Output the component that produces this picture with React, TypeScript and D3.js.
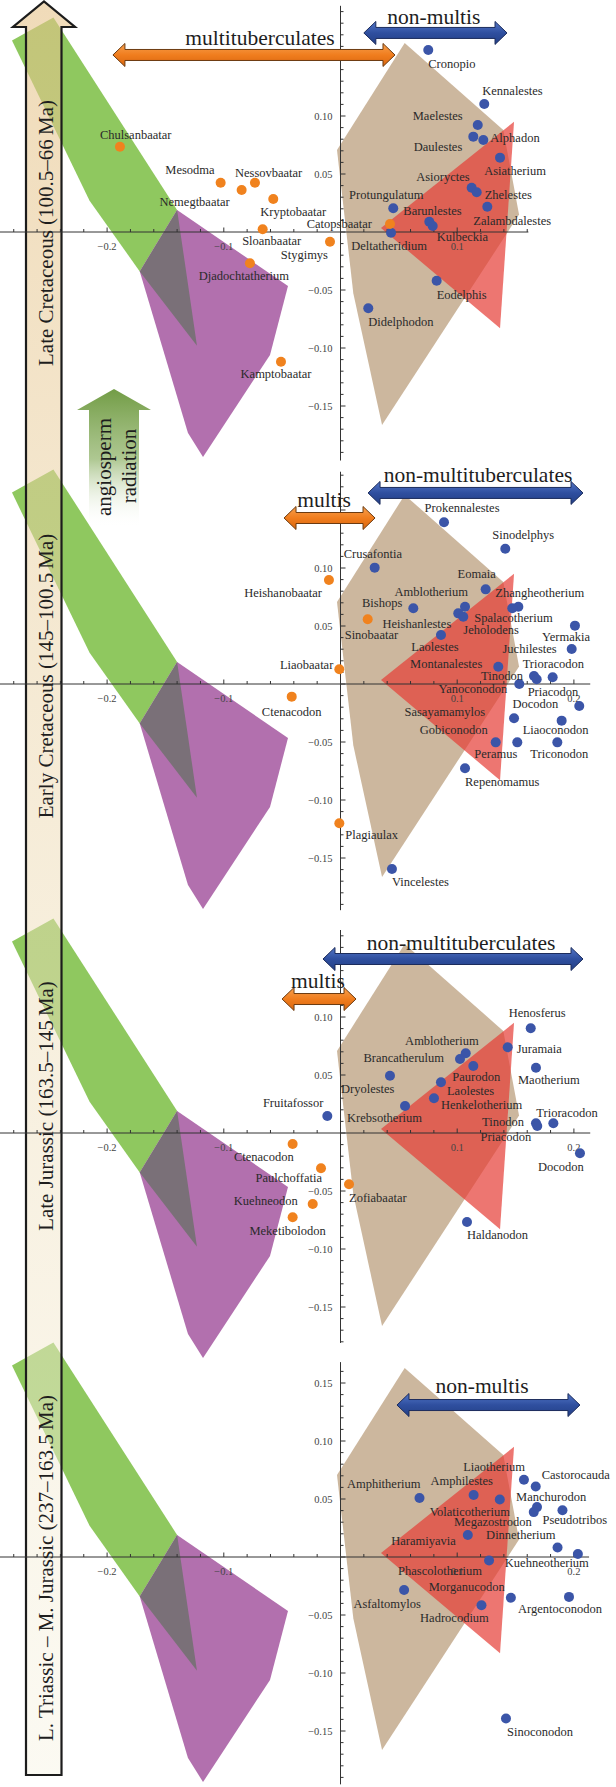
import React from 'react';
import * as d3 from 'd3';

type Taxon = [string, number, number];
type Vtx = [number, number];
type LabelAt = [number, number, 's' | 'm' | 'e'];

const SERIF = '"Liberation Serif", "Times New Roman", "DejaVu Serif", serif';

// morphospace outlines (PC1, PC2), the same in all four panels
const tanHull: Vtx[] = [[0.055, 0.163], [0.1395, 0.088], [0.153, 0.015], [0.0356, -0.1664], [0.011, -0.053], [-0.003, 0.0707]];
const redHull: Vtx[] = [[0.0347, 0.0034], [0.1487, 0.095], [0.1367, -0.083]];
const greenHull: Vtx[] = [[-0.2815, 0.165], [-0.246, 0.185], [-0.14, 0.019], [-0.172, -0.034], [-0.215, 0.027]];
const purpleHull: Vtx[] = [[-0.14, 0.019], [-0.045, -0.0466], [-0.0604, -0.106], [-0.1178, -0.194], [-0.1307, -0.1733], [-0.172, -0.034]];
const greyHull: Vtx[] = [[-0.14, 0.019], [-0.172, -0.034], [-0.123, -0.098]];

// Late Cretaceous
const lkMultis: Taxon[] = [
  ['Chulsanbaatar', -0.189, 0.0735], ['Mesodma', -0.1027, 0.0425], ['Nessovbaatar', -0.0733, 0.0425],
  ['Nemegtbaatar', -0.0847, 0.0362], ['Kryptobaatar', -0.0576, 0.0284], ['Catopsbaatar', 0.0424, 0.0069],
  ['Sloanbaatar', -0.0667, 0.0023], ['Stygimys', -0.009, -0.0084], ['Djadochtatherium', -0.0776, -0.027],
  ['Kamptobaatar', -0.051, -0.1118],
];
const lkOthers: Taxon[] = [
  ['Cronopio', 0.0752, 0.1569], ['Kennalestes', 0.1232, 0.1103], ['Maelestes', 0.1176, 0.0922],
  ['Daulestes', 0.1138, 0.0822], ['Alphadon', 0.1224, 0.0793], ['Asiatherium', 0.1367, 0.0641],
  ['Asioryctes', 0.1124, 0.0382], ['Zhelestes', 0.1167, 0.0342], ['Zalambdalestes', 0.1258, 0.0218],
  ['Protungulatum', 0.0452, 0.0204], ['Barunlestes', 0.0761, 0.0089], ['Kulbeckia', 0.079, 0.0052],
  ['Deltatheridium', 0.0433, -0.0006], ['Eodelphis', 0.0824, -0.042], ['Didelphodon', 0.0238, -0.0658],
];

// Early Cretaceous
const ekMultis: Taxon[] = [
  ['Heishanobaatar', -0.0099, 0.0897], ['Sinobaatar', 0.0233, 0.0558], ['Liaobaatar', -0.001, 0.0127],
  ['Ctenacodon', -0.0418, -0.0109], ['Plagiaulax', -0.001, -0.1201],
];
const ekOthers: Taxon[] = [
  ['Prokennalestes', 0.0887, 0.1394], ['Sinodelphys', 0.1412, 0.1166], ['Crusafontia', 0.0293, 0.1003],
  ['Eomaia', 0.1244, 0.0816], ['Zhangheotherium', 0.1524, 0.0666], ['Spalacotherium', 0.1472, 0.0653],
  ['Amblotherium', 0.1067, 0.0666], ['Heishanlestes', 0.1009, 0.0609], ['Jeholodens', 0.1052, 0.058],
  ['Bishops', 0.0624, 0.0653], ['Laolestes', 0.0861, 0.0422], ['Montanalestes', 0.1352, 0.0149],
  ['Juchilestes', 0.1981, 0.0302], ['Yermakia', 0.2009, 0.0503], ['Tinodon', 0.1658, 0.0069],
  ['Trioracodon', 0.1818, 0.0058], ['Priacodon', 0.1681, 0.0041], ['Yanoconodon', 0.1532, 0.0],
  ['Docodon', 0.2046, -0.019], ['Sasayamamylos', 0.1487, -0.0296], ['Liaoconodon', 0.1895, -0.0316],
  ['Gobiconodon', 0.133, -0.0503], ['Peramus', 0.1515, -0.0503], ['Triconodon', 0.1858, -0.0503],
  ['Repenomamus', 0.1067, -0.0727], ['Vincelestes', 0.0441, -0.1595],
];

// Late Jurassic
const ljMultis: Taxon[] = [
  ['Ctenacodon', -0.041, -0.0095], ['Paulchoffatia', -0.0167, -0.0304], ['Kuehneodon', -0.0238, -0.0612],
  ['Meketibolodon', -0.041, -0.0727], ['Zofiabaatar', 0.0073, -0.0442],
];
const ljOthers: Taxon[] = [
  ['Henosferus', 0.163, 0.0903], ['Juramaia', 0.1433, 0.0739], ['Amblotherium', 0.1073, 0.0687],
  ['Brancatherulum', 0.1024, 0.0638], ['Paurodon', 0.1138, 0.0578], ['Maotherium', 0.1675, 0.0563],
  ['Dryolestes', 0.0424, 0.0494], ['Laolestes', 0.0861, 0.0437], ['Henkelotherium', 0.0801, 0.0299],
  ['Krebsotherium', 0.0553, 0.0233], ['Fruitafossor', -0.0113, 0.0147], ['Tinodon', 0.1675, 0.0084],
  ['Trioracodon', 0.1824, 0.0084], ['Priacodon', 0.1686, 0.006], ['Docodon', 0.2052, -0.0175],
  ['Haldanodon', 0.1084, -0.0767],
];

// Late Triassic - Middle Jurassic
const tjMultis: Taxon[] = [];
const tjOthers: Taxon[] = [
  ['Amphitherium', 0.0677, 0.0508], ['Amphilestes', 0.1141, 0.0534], ['Volaticotherium', 0.1365, 0.0495],
  ['Liaotherium', 0.1572, 0.0666], ['Castorocauda', 0.1673, 0.0607], ['Manchurodon', 0.1684, 0.043],
  ['Megazostrodon', 0.1656, 0.0387], ['Pseudotribos', 0.1902, 0.0403], ['Haramiyavia', 0.1091, 0.019],
  ['Dinnetherium', 0.186, 0.0082], ['Kuehneotherium', 0.2034, 0.0026], ['Phascolotherium', 0.1273, -0.003],
  ['Asfaltomylos', 0.0545, -0.0285], ['Hadrocodium', 0.1208, -0.0416], ['Morganucodon', 0.146, -0.0351],
  ['Argentoconodon', 0.1958, -0.0344], ['Sinoconodon', 0.1418, -0.1393],
];

const periods = [
  'Late Cretaceous (100.5\u201366\u2009Ma)',
  'Early Cretaceous (145\u2013100.5\u2009Ma)',
  'Late Jurassic (163.5\u2013145\u2009Ma)',
  'L. Triassic \u2013 M. Jurassic (237\u2013163.5\u2009Ma)',
];

// label placement: offset from the dot in px, text anchor
const lkLabels: Record<string, LabelAt> = {
  Chulsanbaatar: [-20, -12, 's'], Mesodma: [-6, -13, 'e'], Nessovbaatar: [-20, -10, 's'],
  Nemegtbaatar: [-12, 12, 'e'], Kryptobaatar: [-13, 13, 's'], Catopsbaatar: [-18, 0, 'e'],
  Sloanbaatar: [9, 12, 'm'], Stygimys: [-2, 13, 'e'], Djadochtatherium: [-6, 13, 'm'],
  Kamptobaatar: [-5, 12, 'm'], Cronopio: [0, 14, 's'], Kennalestes: [-2, -13, 's'],
  Maelestes: [-15, -9, 'e'], Daulestes: [-11, 10, 'e'], Alphadon: [7, -2, 's'],
  Asiatherium: [15, 13, 'm'], Asioryctes: [-2, -11, 'e'], Zhelestes: [8, 3, 's'],
  Zalambdalestes: [-14, 14, 's'], Protungulatum: [-7, -13, 'm'], Barunlestes: [-26, -11, 's'],
  Kulbeckia: [4, 11, 's'], Deltatheridium: [-2, 13, 'm'], Eodelphis: [0, 14, 's'],
  Didelphodon: [0, 14, 's'],
};
const ekLabels: Record<string, LabelAt> = {
  Heishanobaatar: [-7, 13, 'e'], Sinobaatar: [-23, 16, 's'], Liaobaatar: [-6, -4, 'e'],
  Ctenacodon: [0, 15, 'm'], Plagiaulax: [6, 12, 's'], Prokennalestes: [18, -14, 'm'],
  Sinodelphys: [-13, -14, 's'], Crusafontia: [-31, -14, 's'], Eomaia: [-9, -15, 'm'],
  Zhangheotherium: [-23, -14, 's'], Spalacotherium: [-38, 10, 's'], Amblotherium: [3, -15, 'e'],
  Heishanlestes: [-7, 11, 'e'], Jeholodens: [0, 13, 's'], Bishops: [-11, -5, 'e'],
  Laolestes: [-6, 12, 'm'], Montanalestes: [-16, -3, 'e'], Juchilestes: [-15, 0, 'e'],
  Yermakia: [-9, 11, 'm'], Tinodon: [-11, 0, 'e'], Trioracodon: [-30, -13, 's'],
  Priacodon: [-9, 13, 's'], Yanoconodon: [-12, 5, 'e'], Docodon: [-21, -2, 'e'],
  Sasayamamylos: [-29, -6, 'e'], Liaoconodon: [-39, 9, 's'], Gobiconodon: [-8, -12, 'e'],
  Peramus: [0, 12, 'e'], Triconodon: [-27, 12, 's'], Repenomamus: [0, 14, 's'],
  Vincelestes: [0, 13, 's'],
};
const ljLabels: Record<string, LabelAt> = {
  Henosferus: [-22, -15, 's'], Juramaia: [9, 2, 's'], Amblotherium: [13, -12, 'e'],
  Brancatherulum: [-16, -1, 'e'], Paurodon: [-21, 11, 's'], Maotherium: [-18, 12, 's'],
  Dryolestes: [-49, 13, 's'], Laolestes: [6, 9, 's'], Henkelotherium: [7, 7, 's'],
  Krebsotherium: [-58, 12, 's'], Fruitafossor: [-4, -13, 'e'], Tinodon: [-12, -1, 'e'],
  Trioracodon: [-17, -10, 's'], Priacodon: [-6, 11, 'e'], Docodon: [-19, 14, 'm'],
  Haldanodon: [0, 13, 's'], Ctenacodon: [1, 13, 'e'], Paulchoffatia: [1, 10, 'e'],
  Kuehneodon: [-15, -3, 'e'], Meketibolodon: [-5, 14, 'm'], Zofiabaatar: [0, 14, 's'],
};
const tjLabels: Record<string, LabelAt> = {
  Amphitherium: [1, -14, 'e'], Amphilestes: [-12, -14, 'm'], Volaticotherium: [-30, 12, 'm'],
  Liaotherium: [1, -13, 'e'], Castorocauda: [6, -12, 's'], Manchurodon: [-21, -10, 's'],
  Megazostrodon: [-2, 10, 'e'], Pseudotribos: [-20, 10, 's'], Haramiyavia: [-12, 6, 'e'],
  Dinnetherium: [-2, -12, 'e'], Kuehneotherium: [11, 9, 'e'], Phascolotherium: [-7, 11, 'e'],
  Asfaltomylos: [-17, 14, 'm'], Hadrocodium: [-27, 13, 'm'], Morganucodon: [-6, -11, 'e'],
  Argentoconodon: [-9, 12, 'm'], Sinoconodon: [1, 13, 's'],
};

const anchorOf = { s: 'start', m: 'middle', e: 'end' } as const;

type Panel = {
  y0: number; xMax: number; yMin: number; yMax: number;
  multis: Taxon[]; others: Taxon[]; labels: Record<string, LabelAt>;
  xLabels: number[]; yLabels: number[];
  blue: [number, number, number]; orange: [number, number, number] | null;
  texts: [string, number, number][];
  periodY: number;
};

const panels: Panel[] = [
  {
    y0: 232, xMax: 0.161, yMin: -0.197, yMax: 0.195, multis: lkMultis, others: lkOthers, labels: lkLabels,
    xLabels: [-0.2, -0.1, 0.1], yLabels: [-0.15, -0.1, -0.05, 0.05, 0.1],
    blue: [0.02, 0.1427, 0.1716], orange: [-0.195, 0.0467, 0.1526],
    texts: [['multituberculates', -0.069, 0.167], ['non-multis', 0.08, 0.185]], periodY: 233,
  },
  {
    y0: 684, xMax: 0.214, yMin: -0.195, yMax: 0.183, multis: ekMultis, others: ekOthers, labels: ekLabels,
    xLabels: [-0.2, -0.1, 0.1, 0.2], yLabels: [-0.15, -0.1, -0.05, 0.05, 0.1],
    blue: [0.0236, 0.2078, 0.1647], orange: [-0.0484, 0.0296, 0.1431],
    texts: [['non-multituberculates', 0.1178, 0.1802], ['multis', -0.0141, 0.1586]], periodY: 676,
  },
  {
    y0: 1133, xMax: 0.214, yMin: -0.181, yMax: 0.175, multis: ljMultis, others: ljOthers, labels: ljLabels,
    xLabels: [-0.2, -0.1, 0.1, 0.2], yLabels: [-0.15, -0.1, -0.05, 0.05, 0.1],
    blue: [-0.015, 0.2078, 0.15], orange: [-0.0501, 0.0133, 0.1155],
    texts: [['non-multituberculates', 0.1033, 0.1638], ['multis', -0.0193, 0.131]], periodY: 1106,
  },
  {
    y0: 1557, xMax: 0.213, yMin: -0.196, yMax: 0.168, multis: tjMultis, others: tjOthers, labels: tjLabels,
    xLabels: [-0.2, -0.1, 0.1, 0.2], yLabels: [-0.15, -0.1, -0.05, 0.05, 0.1, 0.15],
    blue: [0.0484, 0.2052, 0.131], orange: null,
    texts: [['non-multis', 0.1213, 0.1474]], periodY: 1568,
  },
];

const x = d3.scaleLinear().domain([0, 0.1]).range([340.5, 457.2]);
const yFor = (y0: number) => d3.scaleLinear().domain([0, 0.1]).range([y0, y0 - 116]);
const fmtX = d3.format('.1f');
const fmtY = d3.format('.2f');

function dblArrow(x1: number, x2: number, cy: number) {
  const hl = 12, hh = 11.5, sh = 5.5;
  return `M${x1},${cy}L${x1 + hl},${cy - hh}L${x1 + hl},${cy - sh}L${x2 - hl},${cy - sh}L${x2 - hl},${cy - hh}` +
    `L${x2},${cy}L${x2 - hl},${cy + hh}L${x2 - hl},${cy + sh}L${x1 + hl},${cy + sh}L${x1 + hl},${cy + hh}Z`;
}

export default function App() {
  const hull = (p: Panel, pts: Vtx[]) => {
    const y = yFor(p.y0);
    return d3.line<Vtx>().x(d => x(d[0])).y(d => y(d[1]))(pts) + 'Z';
  };

  return (
    <div style={{ position: 'absolute', left: 0, top: 0 }}>
      <svg width={616} height={1787} viewBox="0 0 616 1787" style={{ display: 'block', fontFamily: SERIF }}>
        <defs>
          <linearGradient id="timeGrad" gradientUnits="userSpaceOnUse" x1="0" y1="0" x2="0" y2="1787">
            <stop offset="0" stopColor="#e6c38a" stopOpacity="0.6" />
            <stop offset="0.5" stopColor="#eedcb6" stopOpacity="0.5" />
            <stop offset="1" stopColor="#f8f5e6" stopOpacity="0.5" />
          </linearGradient>
          <linearGradient id="angioGrad" gradientUnits="userSpaceOnUse" x1="0" y1="390" x2="0" y2="528">
            <stop offset="0" stopColor="#739d47" stopOpacity="1" />
            <stop offset="0.5" stopColor="#93b56d" stopOpacity="0.75" />
            <stop offset="1" stopColor="#ffffff" stopOpacity="0" />
          </linearGradient>
          <linearGradient id="orangeGrad" x1="0" y1="0" x2="0" y2="1">
            <stop offset="0" stopColor="#f7a04e" />
            <stop offset="0.5" stopColor="#f07d1e" />
            <stop offset="1" stopColor="#d9660e" />
          </linearGradient>
          <linearGradient id="blueGrad" x1="0" y1="0" x2="0" y2="1">
            <stop offset="0" stopColor="#5275c6" />
            <stop offset="0.5" stopColor="#2f4f9f" />
            <stop offset="1" stopColor="#233f86" />
          </linearGradient>
        </defs>

        {/* morphospace hulls */}
        {panels.map((p, i) => (
          <g key={`h${i}`}>
            <path d={hull(p, tanHull)} fill="#ccb79e" />
            <path d={hull(p, redHull)} fill="#e63c34" fillOpacity={0.7} />
            <path d={hull(p, greenHull)} fill="#8fc85f" />
            <path d={hull(p, purpleHull)} fill="#b270ae" />
            <path d={hull(p, greyHull)} fill="#7a7078" />
          </g>
        ))}

        {/* time arrow */}
        <path d="M26,1775L26,27L13,27L44,1.5L75,27L61.5,27L61.5,1775Z" fill="url(#timeGrad)" stroke="#1c1c1c" strokeWidth={2.2} strokeLinejoin="miter" />
        <path d="M77,410L114,389L151,410L139,410L139,528L89,528L89,410Z" fill="url(#angioGrad)" />

        {/* axes */}
        {panels.map((p, i) => {
          const y = yFor(p.y0);
          const xt = d3.range(-28, Math.floor(p.xMax * 100) + 1, 2).map(v => v / 100);
          const yt = d3.range(Math.ceil(p.yMin * 100), Math.floor(p.yMax * 100) + 1).map(v => v / 100);
          return (
            <g key={`a${i}`} stroke="#333" strokeWidth={1}>
              <line x1={x(-0.292)} x2={x(p.xMax)} y1={y(0)} y2={y(0)} />
              <line x1={x(0)} x2={x(0)} y1={y(p.yMax)} y2={y(p.yMin)} />
              {xt.map(v => {
                const major = Math.abs(v * 10 - Math.round(v * 10)) < 1e-6;
                return <line key={`xt${v}`} x1={x(v)} x2={x(v)} y1={y(0)} y2={y(0) - (major ? 4.5 : 3)} />;
              })}
              {yt.map(v => {
                const major = Math.abs(v * 20 - Math.round(v * 20)) < 1e-6;
                return <line key={`yt${v}`} x1={x(0)} x2={x(0) + (major ? 5 : 3)} y1={y(v)} y2={y(v)} />;
              })}
              <g stroke="none" fill="#444" fontSize={10.5}>
                {p.xLabels.map(v => (
                  <text key={`xl${v}`} x={x(v)} y={y(0) + 14} textAnchor="middle" dominantBaseline="central">{fmtX(v)}</text>
                ))}
                {p.yLabels.map(v => (
                  <text key={`yl${v}`} x={x(0) - 8} y={y(v)} textAnchor="end" dominantBaseline="central">{fmtY(v)}</text>
                ))}
              </g>
            </g>
          );
        })}

        {/* group arrows */}
        {panels.map((p, i) => {
          const y = yFor(p.y0);
          return (
            <g key={`r${i}`}>
              <path d={dblArrow(x(p.blue[0]), x(p.blue[1]), y(p.blue[2]))} fill="url(#blueGrad)" stroke="#1c2c5c" strokeWidth={1} />
              {p.orange && (
                <path d={dblArrow(x(p.orange[0]), x(p.orange[1]), y(p.orange[2]))} fill="url(#orangeGrad)" stroke="#6b3a10" strokeWidth={1} />
              )}
              {p.texts.map(([t, tx, ty]) => (
                <text key={t} x={x(tx)} y={y(ty)} textAnchor="middle" dominantBaseline="central" fontSize={21.5} fill="#1e1e1e">{t}</text>
              ))}
            </g>
          );
        })}

        {/* taxa */}
        {panels.map((p, i) => {
          const y = yFor(p.y0);
          return (
            <g key={`p${i}`}>
              {p.others.map(([n, px, py]) => <circle key={`o${n}`} cx={x(px)} cy={y(py)} r={5} fill="#3b55a8" />)}
              {p.multis.map(([n, px, py]) => <circle key={`m${n}`} cx={x(px)} cy={y(py)} r={5} fill="#f0821e" />)}
            </g>
          );
        })}
        {panels.map((p, i) => {
          const y = yFor(p.y0);
          return (
            <g key={`l${i}`} fontSize={12.5} fill="#2a2a2a">
              {[...p.others, ...p.multis].map(([n, px, py]) => {
                const [dx, dy, a] = p.labels[n] || [0, 13, 's'];
                return (
                  <text key={`t${n}`} x={x(px) + dx} y={y(py) + dy} textAnchor={anchorOf[a]} dominantBaseline="central">{n}</text>
                );
              })}
            </g>
          );
        })}

        {/* period names in the time arrow */}
        {panels.map((p, i) => (
          <text key={`per${i}`} transform={`translate(46,${p.periodY}) rotate(-90)`} textAnchor="middle"
            dominantBaseline="central" fontSize={21} fill="#1e1e1e">{periods[i]}</text>
        ))}
        <text transform="translate(104,467) rotate(-90)" textAnchor="middle" dominantBaseline="central" fontSize={21} fill="#1e1e1e">angiosperm</text>
        <text transform="translate(129,466) rotate(-90)" textAnchor="middle" dominantBaseline="central" fontSize={21} fill="#1e1e1e">radiation</text>
      </svg>
    </div>
  );
}
